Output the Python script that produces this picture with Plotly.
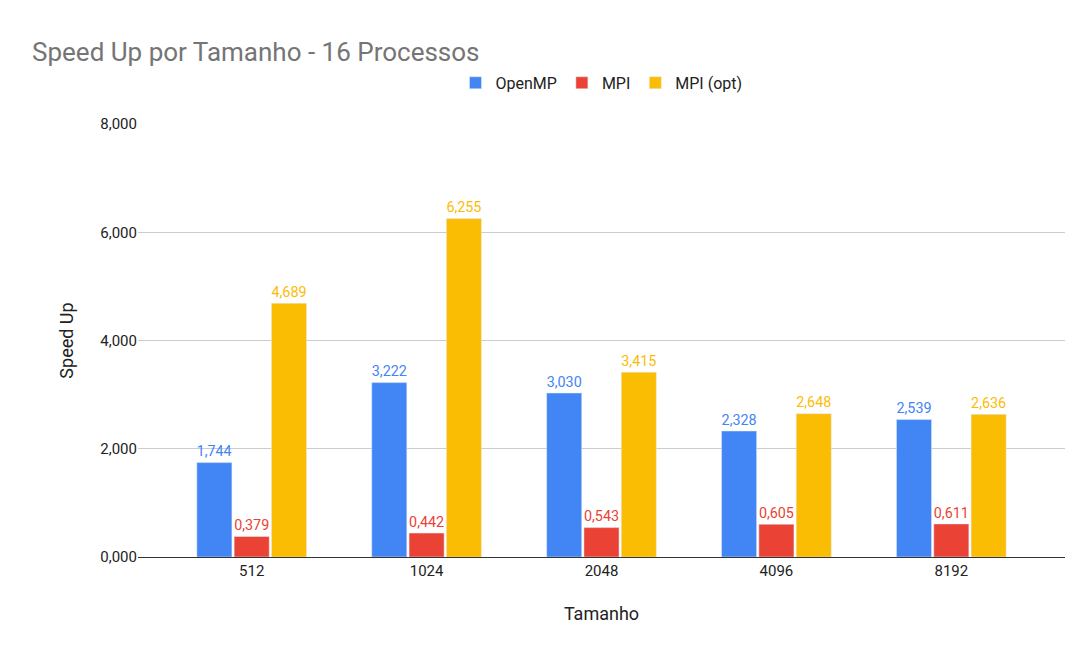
import plotly.graph_objects as go

tamanhos = ["512", "1024", "2048", "4096", "8192"]
openmp = [1.744, 3.222, 3.030, 2.328, 2.539]
mpi = [0.379, 0.442, 0.543, 0.605, 0.611]
mpi_opt = [4.689, 6.255, 3.415, 2.648, 2.636]
y_ticks = [0, 2, 4, 6, 8]


def fmt(v):
    # formato pt-BR: vírgula decimal
    return f"{v:.3f}".replace(".", ",")


series = [
    ("OpenMP", openmp, "#4285f4"),
    ("MPI", mpi, "#ea4335"),
    ("MPI (opt)", mpi_opt, "#fbbc04"),
]

fig = go.Figure()
for nome, vals, cor in series:
    fig.add_trace(go.Bar(
        x=tamanhos, y=vals, name=nome, marker_color=cor,
        text=[fmt(v) for v in vals], textposition="outside",
        textfont=dict(color=cor, size=17), cliponaxis=False,
        offsetgroup=nome,
    ))

fig.update_layout(
    width=1092, height=662,
    title=dict(text="Speed Up por Tamanho - 16 Processos", x=0.022, y=0.947,
               font=dict(size=26, color="#757575")),
    font=dict(family="Roboto, Arial, sans-serif", size=15, color="#222"),
    legend=dict(orientation="h", x=0.5, xanchor="center", y=1.095, yanchor="middle",
                font=dict(size=16)),
    barmode="group", bargap=0.36, bargroupgap=0.06,
    plot_bgcolor="white", paper_bgcolor="white",
    margin=dict(l=130, r=35, t=116, b=113),
    xaxis=dict(title=dict(text="Tamanho", standoff=28), showline=True,
               linecolor="#333", linewidth=1, ticks="", range=[-0.65, 4.65]),
    yaxis=dict(title=dict(text="Speed Up", standoff=22), range=[0, 8],
               tickvals=y_ticks, ticktext=[fmt(v) for v in y_ticks],
               gridcolor="#cccccc", zeroline=False),
    uniformtext=dict(minsize=17),
)
fig.update_traces(textangle=0)

fig.write_html("out.html")
